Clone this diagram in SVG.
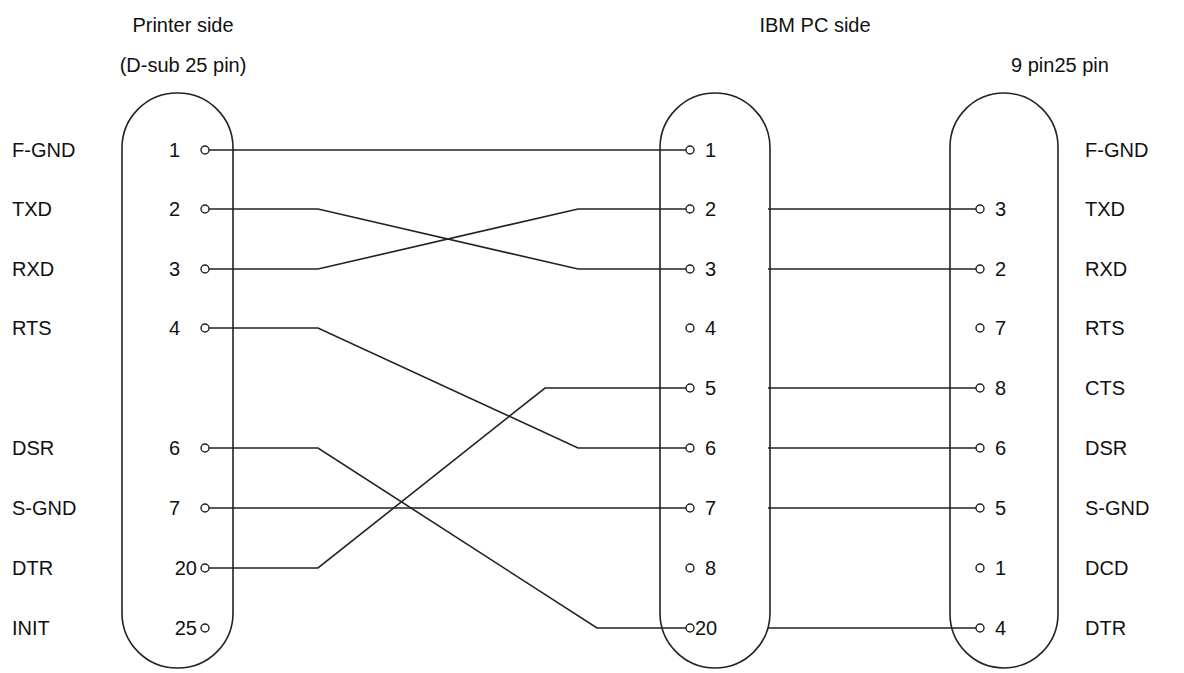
<svg xmlns="http://www.w3.org/2000/svg" width="1184" height="673" viewBox="0 0 1184 673">
<style>
text{font-family:"Liberation Sans",Arial,sans-serif;font-size:20px;fill:#111}
.b{fill:none;stroke:#222;stroke-width:1.6}
.w{fill:none;stroke:#222;stroke-width:1.6}
.p{fill:#fff;stroke:#222;stroke-width:1.4}
.r{text-anchor:end}
</style>
<rect width="1184" height="673" fill="#fff"/>
<text x="183" y="32" text-anchor="middle">Printer side</text>
<text x="183" y="72" text-anchor="middle">(D-sub 25 pin)</text>
<text x="815" y="32" text-anchor="middle">IBM PC side</text>
<text x="1060" y="72" text-anchor="middle">9 pin25 pin</text>
<g id="left"><rect class="b" x="122" y="93" width="111" height="575" rx="55"/>
<g class="lbl"><text x="12" y="157">F-GND</text><text x="12" y="216">TXD</text><text x="12" y="276">RXD</text><text x="12" y="335">RTS</text><text x="12" y="455">DSR</text><text x="12" y="515">S-GND</text><text x="12" y="575">DTR</text><text x="12" y="635">INIT</text></g>
<g class="r"><text x="180" y="157">1</text><text x="180" y="216">2</text><text x="180" y="276">3</text><text x="180" y="335">4</text><text x="180" y="455">6</text><text x="180" y="515">7</text><text x="197" y="575">20</text><text x="197" y="635">25</text></g></g>
<g id="mid"><rect class="b" x="660" y="93" width="110" height="575" rx="55"/>
<text x="705" y="157">1</text><text x="705" y="216">2</text><text x="705" y="276">3</text><text x="705" y="335">4</text><text x="705" y="395">5</text><text x="705" y="455">6</text><text x="705" y="515">7</text><text x="705" y="575">8</text><text x="695" y="635">20</text></g>
<g id="right"><rect class="b" x="950" y="93" width="108" height="575" rx="54"/>
<text x="995" y="216">3</text><text x="995" y="276">2</text><text x="995" y="335">7</text><text x="995" y="395">8</text><text x="995" y="455">6</text><text x="995" y="515">5</text><text x="995" y="575">1</text><text x="995" y="635">4</text>
<text x="1085" y="157">F-GND</text><text x="1085" y="216">TXD</text><text x="1085" y="276">RXD</text><text x="1085" y="335">RTS</text><text x="1085" y="395">CTS</text><text x="1085" y="455">DSR</text><text x="1085" y="515">S-GND</text><text x="1085" y="575">DCD</text><text x="1085" y="635">DTR</text></g>
<g id="connectors" class="w">
<polyline points="205,150 690,150"/>
<polyline points="205,209 318,209 578,269 690,269"/>
<polyline points="205,269 318,269 578,209 690,209"/>
<polyline points="205,328 318,328 578,448 690,448"/>
<polyline points="205,448 318,448 597,628 690,628"/>
<polyline points="205,508 690,508"/>
<polyline points="205,568 318,568 545,388 690,388"/>
<line x1="768" y1="209" x2="980" y2="209"/><line x1="768" y1="269" x2="980" y2="269"/><line x1="768" y1="388" x2="980" y2="388"/><line x1="768" y1="448" x2="980" y2="448"/><line x1="768" y1="508" x2="980" y2="508"/><line x1="768" y1="628" x2="980" y2="628"/>
</g>
<g class="p">
<circle cx="205" cy="150" r="4"/><circle cx="205" cy="209" r="4"/><circle cx="205" cy="269" r="4"/><circle cx="205" cy="328" r="4"/><circle cx="205" cy="448" r="4"/><circle cx="205" cy="508" r="4"/><circle cx="205" cy="568" r="4"/><circle cx="205" cy="628" r="4"/>
<circle cx="690" cy="150" r="4"/><circle cx="690" cy="209" r="4"/><circle cx="690" cy="269" r="4"/><circle cx="690" cy="328" r="4"/><circle cx="690" cy="388" r="4"/><circle cx="690" cy="448" r="4"/><circle cx="690" cy="508" r="4"/><circle cx="690" cy="568" r="4"/><circle cx="690" cy="628" r="4"/>
<circle cx="980" cy="209" r="4"/><circle cx="980" cy="269" r="4"/><circle cx="980" cy="328" r="4"/><circle cx="980" cy="388" r="4"/><circle cx="980" cy="448" r="4"/><circle cx="980" cy="508" r="4"/><circle cx="980" cy="568" r="4"/><circle cx="980" cy="628" r="4"/>
</g>
</svg>
